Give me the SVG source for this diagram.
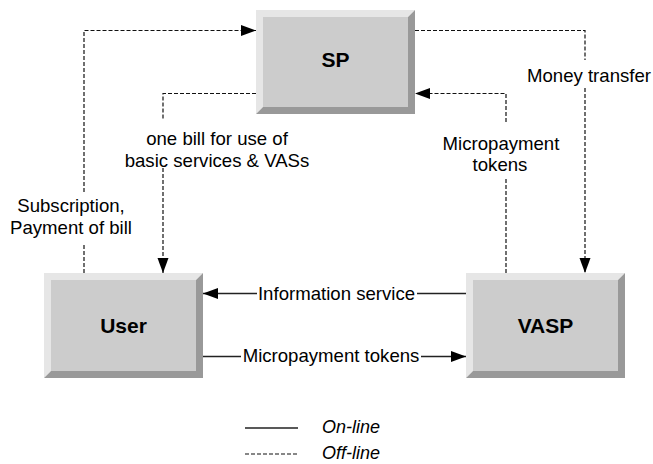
<svg xmlns="http://www.w3.org/2000/svg" width="653" height="464" viewBox="0 0 653 464">
  <style>
    .face { fill: #cccccc; }
    .light { fill: #e6e6e6; }
    .dark { fill: #999999; }
    .name { font-family: "Liberation Sans", Arial, sans-serif; font-weight: bold; font-size: 21px; fill: #000; text-anchor: middle; }
    .lbl { font-family: "Liberation Sans", Arial, sans-serif; font-size: 18.6px; fill: #000; text-anchor: middle; }
    .leg { font-family: "Liberation Sans", Arial, sans-serif; font-style: italic; font-size: 18px; fill: #000; }
    .on { fill: none; stroke: #222; stroke-width: 1.4; }
    .off { fill: none; stroke: #111; stroke-width: 1.2; stroke-dasharray: 4 2; }
  </style>
  <defs>
    <marker id="arrow" markerUnits="userSpaceOnUse" markerWidth="16" markerHeight="12" refX="15" refY="5.5" orient="auto">
      <path d="M0,0 L15,5.5 L0,11 z" fill="#000"/>
    </marker>
  </defs>

  <rect width="653" height="464" fill="#fff"/>

  <!-- SP -->
  <g id="sp">
    <polygon class="light" points="256,10 415,10 408,17 263,17 263,107 256,114"/>
    <polygon class="dark" points="415,10 415,114 256,114 263,107 408,107 408,17"/>
    <rect class="face" x="263" y="17" width="145" height="90"/>
    <text class="name" x="335.5" y="66.5">SP</text>
  </g>

  <!-- User -->
  <g id="user">
    <polygon class="light" points="44,273 203,273 196,280 51,280 51,371 44,378"/>
    <polygon class="dark" points="203,273 203,378 44,378 51,371 196,371 196,280"/>
    <rect class="face" x="51" y="280" width="145" height="91"/>
    <text class="name" x="123.5" y="332.5">User</text>
  </g>

  <!-- VASP -->
  <g id="vasp">
    <polygon class="light" points="466,273 625,273 618,280 473,280 473,371 466,378"/>
    <polygon class="dark" points="625,273 625,378 466,378 473,371 618,371 618,280"/>
    <rect class="face" x="473" y="280" width="145" height="91"/>
    <text class="name" x="545.5" y="332.5">VASP</text>
  </g>

  <!-- connectors -->
  <g id="connectors">
    <!-- User to SP: subscription, payment of bill -->
    <path class="off" d="M84,273 V243"/>
    <path class="off" d="M84,192 V30.5 H256" marker-end="url(#arrow)"/>
    <!-- SP to User: one bill -->
    <path class="off" d="M256,93.5 H163 V120"/>
    <path class="off" d="M163,168 V273" marker-end="url(#arrow)"/>
    <!-- SP to VASP: money transfer -->
    <path class="off" d="M415,30.5 H585 V60"/>
    <path class="off" d="M585,88 V273" marker-end="url(#arrow)"/>
    <!-- VASP to SP: micropayment tokens -->
    <path class="off" d="M506,273 V177"/>
    <path class="off" d="M506,122 V93.5 H415" marker-end="url(#arrow)"/>
    <!-- VASP to User: information service -->
    <path class="on" d="M466,293.5 H417"/>
    <path class="on" d="M257,293.5 H203" marker-end="url(#arrow)"/>
    <!-- User to VASP: micropayment tokens -->
    <path class="on" d="M203,356.5 H241"/>
    <path class="on" d="M421,356.5 H466" marker-end="url(#arrow)"/>
  </g>

  <!-- connector labels -->
  <g id="labels">
    <text class="lbl" x="71" y="212">Subscription,</text>
    <text class="lbl" x="71" y="234">Payment of bill</text>
    <text class="lbl" x="217" y="145">one bill for use of</text>
    <text class="lbl" x="217" y="167">basic services &amp; VASs</text>
    <text class="lbl" x="589" y="82">Money transfer</text>
    <text class="lbl" x="501" y="149.5">Micropayment</text>
    <text class="lbl" x="500" y="171">tokens</text>
    <text class="lbl" x="336.5" y="299.5">Information service</text>
    <text class="lbl" x="331" y="362">Micropayment tokens</text>
  </g>

  <!-- legend -->
  <g id="legend">
    <path class="on" d="M245,428 H298"/>
    <text class="leg" x="322" y="433">On-line</text>
    <path class="off" d="M245,454 H298"/>
    <text class="leg" x="322" y="459">Off-line</text>
  </g>
</svg>
